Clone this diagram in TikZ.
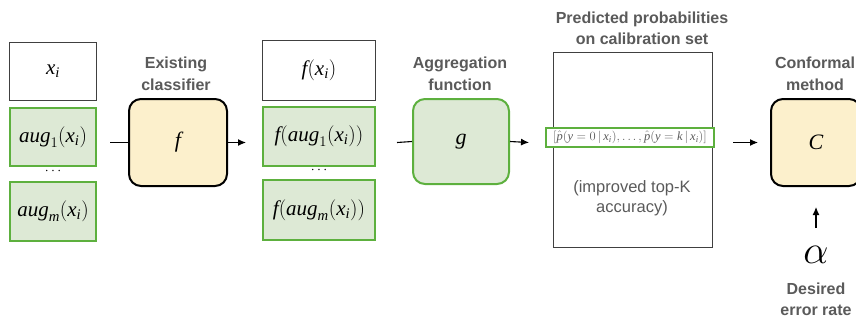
\documentclass[tikz,border=0pt]{standalone}
\usepackage{fix-cm}
\usepackage{fontspec}
\setmainfont{Liberation Serif}
\setsansfont{Liberation Sans}
\usetikzlibrary{arrows.meta}
\definecolor{gfill}{HTML}{DDE9D5}
\definecolor{gline}{HTML}{5DB03E}
\definecolor{yfill}{HTML}{FCF0CC}
\definecolor{lblgrey}{HTML}{5A5A5A}
\newcommand\mv[1]{\mathit{#1}}
\begin{document}
\begin{tikzpicture}[x=1pt,y=-1pt,
  plainbox/.style={draw=black!75,line width=0.7pt,fill=white,inner sep=0pt,font=\fontsize{21}{22}\selectfont},
  greenbox/.style={draw=gline,fill=gfill,line width=2pt,inner sep=0pt,font=\fontsize{21}{22}\selectfont},
  yellowbox/.style={draw=black,fill=yfill,line width=2pt,rounded corners=12pt,inner sep=0pt,font=\fontsize{22}{22}\selectfont},
  greenround/.style={draw=gline,fill=gfill,line width=2pt,rounded corners=12pt,inner sep=0pt,font=\fontsize{22}{22}\selectfont},
  lbl/.style={font=\sffamily\bfseries\fontsize{16}{21.5}\selectfont,text=lblgrey,align=center},
  plainlbl/.style={font=\sffamily\fontsize{16.5}{20}\selectfont,text=lblgrey,align=center},
  conn/.style={line width=1.1pt},
  arr/.style={line width=1.1pt,-{Latex[length=8pt,width=7pt]}}
]
\useasboundingbox (0,0) rectangle (856,322);
% left column
\node[plainbox,minimum width=87pt,minimum height=58pt] (xi) at (53,71.5) {$\mv{x}_{\mv{i}}$};
\node[greenbox,minimum width=86pt,minimum height=58pt] (aug1) at (53,137) {$\mv{aug}_1(\mv{x}_{\mv{i}})$};
\node[font=\fontsize{14}{14}\selectfont] (dots1) at (53,171) {$\cdots$};
\node[greenbox,minimum width=86pt,minimum height=59pt] (augm) at (53,211.5) {$\mv{aug}_{\mv{m}}(\mv{x}_{\mv{i}})$};
% classifier
\node[yellowbox,minimum width=98pt,minimum height=87pt] (f) at (178,142.5) {$\mv{f}$};
\node[lbl] (flbl) at (176,74) {Existing\\classifier};
\coordinate (in1) at (110,142.5);
\coordinate (out1) at (246,142.5);
\draw[conn] (in1) -- (f.west);
\draw[arr] (f.east) -- (out1);
% middle column
\node[plainbox,minimum width=113pt,minimum height=60pt] (fxi) at (319,70.5) {$\mv{f}(\mv{x}_{\mv{i}})$};
\node[greenbox,minimum width=112pt,minimum height=59pt] (faug1) at (319,136.5) {$\mv{f}(\mv{aug}_1(\mv{x}_{\mv{i}}))$};
\node[font=\fontsize{14}{14}\selectfont] (dots2) at (319,170) {$\cdots$};
\node[greenbox,minimum width=112pt,minimum height=60pt] (faugm) at (319,210) {$\mv{f}(\mv{aug}_{\mv{m}}(\mv{x}_{\mv{i}}))$};
% aggregation
\node[greenround,minimum width=96pt,minimum height=85pt] (g) at (461,141.5) {$\mv{g}$};
\node[lbl] (glbl) at (460,74) {Aggregation\\function};
\coordinate (in2) at (397,142.5);
\coordinate (out2) at (529,142.5);
\draw[conn] (in2) -- (g.west);
\draw[arr] (g.east) -- (out2);
% probabilities
\node[draw=black!75,line width=0.7pt,minimum width=159pt,minimum height=195pt,inner sep=0pt] (prob) at (632.5,149.5) {};
\node[draw=gline,fill=white,line width=2pt,minimum width=168pt,minimum height=19pt,inner sep=0pt,text=lblgrey,font=\fontsize{12.5}{14}\selectfont] (pvec) at (630,137) {$[\hat{\mv{p}}(\mv{y}=0\,|\,\mv{x}_{\mv{i}}),\ldots,\hat{\mv{p}}(\mv{y}=\mv{k}\,|\,\mv{x}_{\mv{i}})]$};
\node[plainlbl] (topk) at (632,198) {(improved top-K\\accuracy)};
\node[lbl] (plbl) at (642,28.5) {Predicted probabilities\\on calibration set};
% conformal
\coordinate (in3) at (733,142.5);
\coordinate (out3) at (758,142.5);
\node[yellowbox,minimum width=90pt,minimum height=87pt] (C) at (816,142.5) {$\mv{C}$};
\draw[arr] (in3) -- (out3);
\node[lbl] (clbl) at (815,74) {Conformal\\method};
\node[inner sep=0pt,font=\fontsize{40}{40}\selectfont] (alpha) at (816,255) {$\alpha$};
\coordinate (aup) at (816,207);
\coordinate (adown) at (816,228);
\draw[arr] (adown) -- (aup);
\node[lbl] (albl) at (816,299.5) {Desired\\error rate};
\end{tikzpicture}
\end{document}
